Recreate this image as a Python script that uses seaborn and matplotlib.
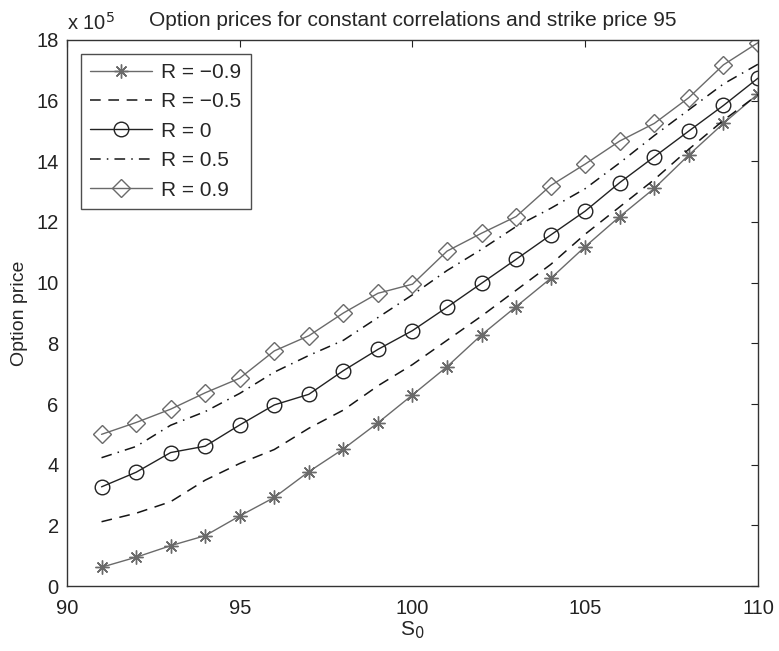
import numpy as np
import pandas as pd
import seaborn as sns
import matplotlib
matplotlib.use("Agg")
import matplotlib.pyplot as plt

S0 = [91, 92, 93, 94, 95, 96, 97, 98, 99, 100, 101, 102, 103, 104, 105, 106, 107, 108, 109, 110]
r_m09 = [0.62, 0.95, 1.33, 1.66, 2.31, 2.92, 3.77, 4.52, 5.38, 6.30, 7.23, 8.28, 9.21, 10.14, 11.19, 12.18, 13.11, 14.21, 15.25, 16.22]
r_m05 = [2.12, 2.40, 2.78, 3.49, 4.04, 4.50, 5.20, 5.80, 6.60, 7.30, 8.10, 8.90, 9.75, 10.60, 11.60, 12.50, 13.40, 14.40, 15.35, 16.20]
r_0 = [3.27, 3.75, 4.40, 4.61, 5.31, 5.97, 6.32, 7.10, 7.80, 8.42, 9.19, 9.98, 10.77, 11.57, 12.36, 13.30, 14.15, 15.00, 15.84, 16.74]
r_05 = [4.23, 4.60, 5.30, 5.75, 6.35, 7.05, 7.60, 8.10, 8.85, 9.60, 10.40, 11.10, 11.85, 12.45, 13.10, 13.95, 14.85, 15.70, 16.55, 17.20]
r_09 = [5.00, 5.39, 5.83, 6.37, 6.85, 7.75, 8.25, 9.00, 9.65, 9.95, 11.04, 11.63, 12.18, 13.20, 13.91, 14.67, 15.25, 16.10, 17.18, 17.91]
labels = ["R = \u22120.9", "R = \u22120.5", "R = 0", "R = 0.5", "R = 0.9"]
xticks = [90, 95, 100, 105, 110]
yticks = [0, 2, 4, 6, 8, 10, 12, 14, 16, 18]

sns.set_theme(style="white")
plt.rcParams['font.family'] = ['Liberation Sans', 'DejaVu Sans']

fig = plt.figure(figsize=(7.79, 6.51), dpi=100)
ax = fig.add_axes([0.086, 0.0998, 0.887, 0.8388])

series = [r_m09, r_m05, r_0, r_05, r_09]
grey = "#6a6a6a"
dark = "#151515"
styles = [
    dict(color=grey, linestyle="-", marker=(8, 2, 0), markersize=10, markeredgewidth=1.0,
         markeredgecolor=grey),
    dict(color=dark, linestyle=(0, (7, 5)), marker=None),
    dict(color="#222222", linestyle="-", marker="o", markersize=10.5, markerfacecolor="none",
         markeredgewidth=1.0, markeredgecolor="#222222"),
    dict(color=dark, linestyle=(0, (7, 4, 1, 4)), marker=None),
    dict(color=grey, linestyle="-", marker="D", markersize=9, markerfacecolor="none",
         markeredgewidth=1.0, markeredgecolor=grey),
]
for vals, lab, st in zip(series, labels, styles):
    st = dict(st)
    mk = st.pop("marker")
    if mk is None:
        sns.lineplot(x=S0, y=vals, ax=ax, label=lab, linewidth=1.1, **st)
    else:
        sns.lineplot(x=S0, y=vals, ax=ax, label=lab, linewidth=1.0, marker=mk, **st)

ax.set_xlim(90, 110)
ax.set_ylim(0, 18)
ax.set_xticks(xticks)
ax.set_yticks(yticks)
ax.tick_params(direction="in", length=5, width=0.8, top=True, right=True, labelsize=14.5,
               colors="#222222")
ax.tick_params(axis="x", pad=9)
ax.tick_params(axis="y", pad=6)
for s in ax.spines.values():
    s.set_color("#333333")
    s.set_linewidth(1.0)
ax.set_xlabel("S$_0$", fontsize=15, labelpad=1)
ax.set_ylabel("Option price", fontsize=14, labelpad=6)
ax.set_title("Option prices for constant correlations and strike price 95", fontsize=15, pad=10)
ax.text(0.0, 1.012, "x 10$^5$", transform=ax.transAxes, fontsize=14.5, ha="left", va="bottom")

leg = ax.legend(loc="upper left", fontsize=15, frameon=True, fancybox=False, handlelength=3.0,
                borderaxespad=0.65, labelspacing=0.5, handletextpad=0.42, borderpad=0.45)
leg.get_frame().set_edgecolor("#222222")
leg.get_frame().set_linewidth(1.0)

fig.savefig("out.png", dpi=100)
